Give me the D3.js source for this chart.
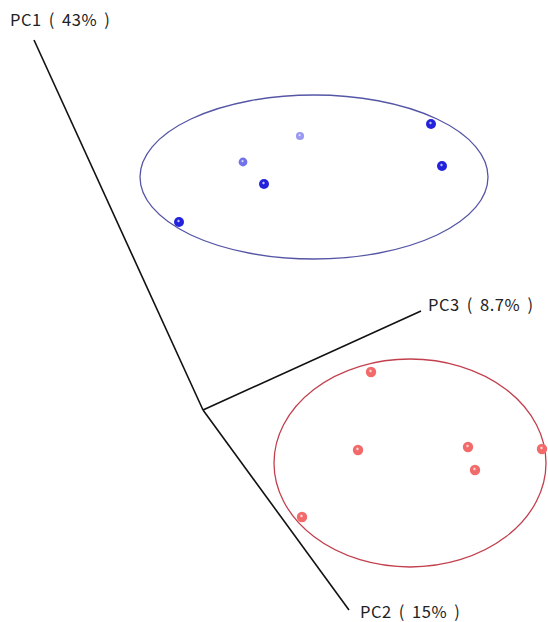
<!DOCTYPE html>
<html lang="en">
<head>
  <meta charset="UTF-8" />
  <title>PCA 3D</title>
  <script src="https://cdn.jsdelivr.net/npm/d3@7/dist/d3.min.js"></script>
  <style>
    html, body { margin: 0; padding: 0; background: #fff; }
    svg { display: block; }
  </style>
</head>
<body>
  <div id="chart"></div>
  <script>
    // projected scores (screen plane, origin = axes meeting point)
    const blueX = [2.28, 0.97, 0.40, 2.39, 0.61, -0.24];
    const blueY = [2.86, 2.74, 2.48, 2.44, 2.26, 1.88];
    const blueDepth = [1, 0.25, 0.5, 1, 1, 1]; // 1 = front (dark), lower = further back

    const redX = [1.68, 1.55, 2.65, 3.39, 2.72, 0.99];
    const redY = [0.38, -0.40, -0.37, -0.39, -0.60, -1.07];

    const axisNames = ["PC1 ( 43% )", "PC2 ( 15% )", "PC3 ( 8.7% )"];
    const axisEndX = [-1.69, 1.46, 2.18];
    const axisEndY = [3.70, -2.00, 0.99];

    // confidence ellipses: cx, cy, rx, ry
    const ellipseBlue = [1.11, 2.33, 1.74, 0.82];
    const ellipseRed = [2.07, -0.53, 1.36, 1.04];

    const width = 548, height = 622;

    const x = d3.scaleLinear().domain([-2.03, 3.45]).range([0, width]);
    const y = d3.scaleLinear().domain([4.10, -2.12]).range([0, height]);

    const svg = d3.select("#chart").append("svg")
      .attr("width", width)
      .attr("height", height);

    // sphere-like gradients
    const defs = svg.append("defs");
    function ball(id, c) {
      const g = defs.append("radialGradient").attr("id", id)
        .attr("cx", "45%").attr("cy", "40%").attr("r", "60%");
      g.append("stop").attr("offset", "0%").attr("stop-color", "#ffffff");
      g.append("stop").attr("offset", "30%").attr("stop-color", c);
      g.append("stop").attr("offset", "100%").attr("stop-color", c);
    }
    const blueShade = d3.scaleLinear().domain([0.25, 1]).range(["#9a9af2", "#2323dd"]);
    blueDepth.forEach((d, i) => ball("b" + i, blueShade(d)));
    ball("r", "#f36a6a");

    // axes
    const ox = x(0), oy = y(0);
    axisEndX.forEach((ex, i) => {
      svg.append("line")
        .attr("x1", ox).attr("y1", oy)
        .attr("x2", x(ex)).attr("y2", y(axisEndY[i]))
        .attr("stroke", "#111").attr("stroke-width", 1.6);
    });

    const labelFont = "'Noto Sans CJK SC', 'Noto Sans', sans-serif";
    const labelPos = [
      { dx: -24, dy: -14 },
      { dx: 11, dy: 8 },
      { dx: 7, dy: 0 }
    ];
    axisNames.forEach((t, i) => {
      svg.append("text")
        .attr("x", x(axisEndX[i]) + labelPos[i].dx)
        .attr("y", y(axisEndY[i]) + labelPos[i].dy)
        .attr("font-family", labelFont)
        .attr("font-size", 16.5)
        .attr("letter-spacing", 0.5)
        .attr("word-spacing", 3)
        .attr("fill", "#222")
        .text(t);
    });

    // ellipses
    function drawEllipse(e, color) {
      svg.append("ellipse")
        .attr("cx", x(e[0])).attr("cy", y(e[1]))
        .attr("rx", x(e[2]) - x(0)).attr("ry", y(0) - y(e[3]))
        .attr("fill", "none")
        .attr("stroke", color)
        .attr("stroke-width", 1.3);
    }
    drawEllipse(ellipseBlue, "#5656a6");
    drawEllipse(ellipseRed, "#c2404e");

    // points
    svg.selectAll("circle.blue")
      .data(blueX.map((v, i) => ({ x: v, y: blueY[i], d: blueDepth[i], i })))
      .enter().append("circle")
      .attr("class", "blue")
      .attr("cx", d => x(d.x)).attr("cy", d => y(d.y))
      .attr("r", d => 3.8 + 1.2 * d.d)
      .attr("fill", d => `url(#b${d.i})`);

    svg.selectAll("circle.red")
      .data(redX.map((v, i) => ({ x: v, y: redY[i] })))
      .enter().append("circle")
      .attr("class", "red")
      .attr("cx", d => x(d.x)).attr("cy", d => y(d.y))
      .attr("r", 5.2)
      .attr("fill", "url(#r)");
  </script>
</body>
</html>
